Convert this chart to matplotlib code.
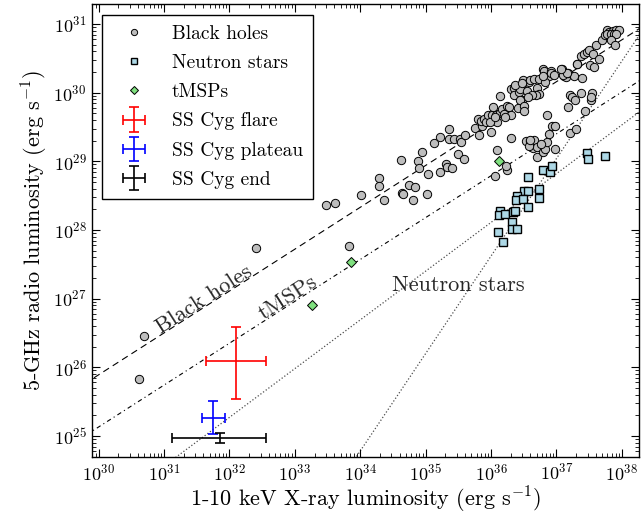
import numpy as np
import matplotlib
matplotlib.use('Agg')
import matplotlib.pyplot as plt
from matplotlib.ticker import FixedLocator, LogLocator, NullFormatter
from matplotlib.legend_handler import HandlerErrorbar

plt.rcParams['font.family'] = 'serif'
plt.rcParams['font.serif'] = ['cmr10', 'DejaVu Serif']
plt.rcParams['mathtext.fontset'] = 'cm'
plt.rcParams['axes.formatter.use_mathtext'] = True

# --- Daten (log10 der Leuchtkraefte) ---
bh_lx = [30.62, 30.70, 32.40, 33.83, 33.48, 33.61, 34.01, 34.29, 34.29, 34.36,
         34.63, 34.64, 34.66, 34.75, 34.84, 34.80, 34.89, 34.90, 34.95, 35.03,
         35.02, 35.13, 35.22, 35.22, 35.31, 35.32, 35.40, 35.36, 35.35, 35.43,
         35.52, 35.54, 35.60, 35.49, 35.59, 35.76, 35.81, 35.80, 35.86, 35.84,
         35.89, 35.93, 35.96, 36.01, 36.00, 36.03, 36.07, 36.09, 36.14, 36.17,
         36.20, 36.24, 36.27, 36.30, 36.14, 36.30, 36.35, 36.35, 36.42, 36.41,
         36.47, 36.45, 36.50, 36.47, 36.45, 36.49, 36.58, 36.60, 36.55, 36.65,
         36.73, 36.71, 36.73, 36.68, 36.63, 36.80, 36.81, 36.88, 36.83, 36.91,
         37.08, 37.11, 37.14, 37.17, 37.27, 37.39, 37.32, 37.37, 37.42, 37.46,
         37.50, 37.56, 37.52, 37.57, 37.65, 37.61, 37.70, 37.74, 37.77, 37.80,
         37.86, 37.91, 37.96, 37.77, 37.83, 37.88, 37.91, 37.84, 37.90, 36.09,
         36.06, 36.24, 36.23, 36.31, 36.54, 36.60, 36.66, 36.64, 36.71, 36.70,
         36.80, 36.83, 36.85, 36.88, 36.93, 36.98, 36.85, 36.98, 37.20, 37.30,
         37.18, 37.43, 37.21, 37.24, 37.29, 37.37, 37.53, 37.54, 37.53, 36.58,
         36.76, 36.59, 35.99, 36.06, 36.21, 36.37, 36.48, 36.50, 36.57, 36.80,
         36.92, 36.96, 37.10, 37.16, 37.07, 37.31]
bh_lr = [25.83, 26.45, 27.73, 27.77, 28.37, 28.39, 28.51, 28.75, 28.64, 28.44,
         29.02, 28.54, 28.52, 28.66, 28.63, 28.43, 29.01, 28.90, 29.14, 28.81,
         28.52, 29.26, 29.35, 28.85, 28.96, 28.92, 28.90, 29.47, 29.33, 29.32,
         29.33, 29.28, 29.38, 29.11, 29.03, 29.49, 29.38, 29.62, 29.52, 29.59,
         29.62, 29.57, 29.67, 29.67, 29.43, 29.79, 29.67, 29.58, 29.70, 29.76,
         29.69, 29.81, 29.79, 29.67, 29.95, 30.06, 30.07, 29.96, 30.01, 29.78,
         29.89, 29.90, 29.81, 30.13, 30.06, 30.19, 30.16, 30.19, 30.03, 30.20,
         30.20, 30.07, 29.98, 29.97, 29.96, 30.35, 30.31, 30.25, 30.16, 30.31,
         30.35, 30.25, 30.23, 30.28, 30.25, 30.21, 30.42, 30.53, 30.57, 30.59,
         30.62, 30.57, 30.41, 30.37, 30.49, 30.70, 30.77, 30.84, 30.92, 30.89,
         30.90, 30.91, 30.91, 30.86, 30.85, 30.86, 30.85, 30.77, 30.69, 29.17,
         28.79, 28.87, 28.93, 29.34, 29.29, 29.30, 29.31, 29.20, 29.21, 29.06,
         29.13, 29.18, 29.28, 29.40, 29.52, 29.52, 29.68, 29.18, 29.41, 29.47,
         29.79, 29.73, 29.96, 29.94, 29.90, 30.00, 29.90, 30.00, 29.94, 29.22,
         29.25, 29.31, 29.57, 29.64, 29.65, 30.11, 30.14, 29.74, 29.93, 30.25,
         30.29, 30.26, 30.26, 30.28, 30.35, 30.42]

ns_lx = [37.47, 37.49, 37.74, 36.56, 36.80, 36.90, 36.93, 36.50, 36.57, 36.73,
         36.73, 36.39, 36.38, 36.49, 36.56, 36.13, 36.12, 36.21, 36.34, 36.37,
         36.32, 36.32, 36.39, 36.10, 36.18]
ns_lr = [29.12, 29.03, 29.08, 28.77, 28.87, 28.85, 28.93, 28.57, 28.57, 28.59,
         28.46, 28.49, 28.44, 28.45, 28.33, 28.28, 28.22, 28.23, 28.26, 28.27,
         28.11, 28.02, 28.01, 27.97, 27.82]

tmsp_lx = [33.27, 33.86, 36.12]
tmsp_lr = [26.91, 27.54, 29.00]

# SS Cyg: Mittelwert, unteres und oberes Ende der Fehlerbalken
sscyg_names = ['SS Cyg flare', 'SS Cyg plateau', 'SS Cyg end']
sscyg_colors = ['r', 'b', 'k']
sscyg_lx = [1.27e32, 5.7e31, 7.3e31]
sscyg_lx_lo = [4.4e31, 3.85e31, 1.34e31]
sscyg_lx_hi = [3.6e32, 8.5e31, 3.6e32]
sscyg_lr = [1.22e26, 1.8e25, 9.4e24]
sscyg_lr_lo = [3.5e25, 1.08e25, 7.8e24]
sscyg_lr_hi = [3.8e26, 3.2e25, 1.12e25]

# Korrelationen: log Lr = a + b * (log Lx - 34)
bh_a, bh_b = 28.33, 0.61
tmsp_a, tmsp_b = 27.57, 0.61
ns1_a, ns1_b = 26.69, 0.71
ns2_a, ns2_b = 24.78, 1.42

x_decades = np.arange(30, 39)
y_decades = np.arange(25, 32)

fig = plt.figure(figsize=(6.44, 5.16), dpi=100)
ax = fig.add_axes([0.143, 0.114, 0.849, 0.878])
ax.set_xscale('log')
ax.set_yscale('log')
ax.set_xlim(10**29.9, 10**38.26)
ax.set_ylim(10**24.69, 10**31.29)

lx_line = np.linspace(29.5, 38.6, 200)
ax.plot(10**lx_line, 10**(bh_a + bh_b * (lx_line - 34)), color='k', lw=0.8,
        dashes=(6, 4), zorder=1)
ax.plot(10**lx_line, 10**(tmsp_a + tmsp_b * (lx_line - 34)), color='k', lw=0.8,
        dashes=(4, 3, 1, 3), zorder=1)
ax.plot(10**lx_line, 10**(ns1_a + ns1_b * (lx_line - 34)), color='0.3', lw=0.9,
        ls=':', zorder=1)
ax.plot(10**lx_line, 10**(ns2_a + ns2_b * (lx_line - 34)), color='0.3', lw=0.9,
        ls=':', zorder=1)

h_bh, = ax.plot(10**np.array(bh_lx), 10**np.array(bh_lr), 'o', ms=6,
                mfc='#bdbdbd', mec='k', mew=0.7, label='Black holes', zorder=3)
h_ns, = ax.plot(10**np.array(ns_lx), 10**np.array(ns_lr), 's', ms=5.5,
                mfc='#add8e6', mec='k', mew=1.0, label='Neutron stars', zorder=3)
h_tm, = ax.plot(10**np.array(tmsp_lx), 10**np.array(tmsp_lr), 'D', ms=5,
                mfc='#7fe07f', mec='k', mew=0.7, label='tMSPs', zorder=3)

err_handles = []
for i in range(3):
    xerr = [[sscyg_lx[i] - sscyg_lx_lo[i]], [sscyg_lx_hi[i] - sscyg_lx[i]]]
    yerr = [[sscyg_lr[i] - sscyg_lr_lo[i]], [sscyg_lr_hi[i] - sscyg_lr[i]]]
    eb = ax.errorbar([sscyg_lx[i]], [sscyg_lr[i]], xerr=xerr, yerr=yerr,
                     fmt='none', ecolor=sscyg_colors[i], elinewidth=1.2,
                     capsize=3.5, capthick=1.2, label=sscyg_names[i], zorder=4)
    err_handles.append(eb)

# Beschriftungen der Korrelationen
fig.canvas.draw()


def line_angle(a, b):
    p = ax.transData.transform([(1e31, 10**(a + b * (31 - 34))),
                                (1e36, 10**(a + b * (36 - 34)))])
    return np.degrees(np.arctan2(p[1, 1] - p[0, 1], p[1, 0] - p[0, 0]))


ax.text(10**31.62, 10**26.99, 'Black holes', fontsize=16, color='0.15',
        rotation=line_angle(bh_a, bh_b), rotation_mode='anchor',
        ha='center', va='center')
ax.text(10**32.89, 10**27.01, 'tMSPs', fontsize=16, color='0.15',
        rotation=line_angle(tmsp_a, tmsp_b), rotation_mode='anchor',
        ha='center', va='center')
ax.text(10**35.50, 10**27.20, 'Neutron stars', fontsize=16, color='0.15',
        ha='center', va='center')

ax.xaxis.set_major_locator(FixedLocator(10.0**x_decades))
ax.yaxis.set_major_locator(FixedLocator(10.0**y_decades))
ax.xaxis.set_minor_locator(LogLocator(base=10, subs=np.arange(2, 10), numticks=20))
ax.yaxis.set_minor_locator(LogLocator(base=10, subs=np.arange(2, 10), numticks=20))
ax.xaxis.set_minor_formatter(NullFormatter())
ax.yaxis.set_minor_formatter(NullFormatter())
ax.tick_params(which='both', direction='in', top=True, right=True, labelsize=13)
ax.tick_params(which='major', length=6, width=0.8, pad=4)
ax.tick_params(which='minor', length=3, width=0.6)
for s in ax.spines.values():
    s.set_linewidth(1.0)

ax.set_xlabel(r'1-10 keV X-ray luminosity (erg s$^{-1}$)', fontsize=16, labelpad=1)
ax.set_ylabel(r'5-GHz radio luminosity (erg s$^{-1}$)', fontsize=16, labelpad=2)

leg = ax.legend(handles=[h_bh, h_ns, h_tm] + err_handles,
                loc='upper left', bbox_to_anchor=(0.018, 0.976), borderaxespad=0,
                fontsize=14, numpoints=1, markerscale=0.75, fancybox=False,
                framealpha=1, edgecolor='k', handlelength=2.3, handletextpad=0.8,
                labelspacing=0.58, borderpad=0.5,
                handler_map={type(err_handles[0]): HandlerErrorbar(xerr_size=0.55, yerr_size=0.62)})
leg.get_frame().set_linewidth(1.0)

fig.savefig('out.png', dpi=100)
